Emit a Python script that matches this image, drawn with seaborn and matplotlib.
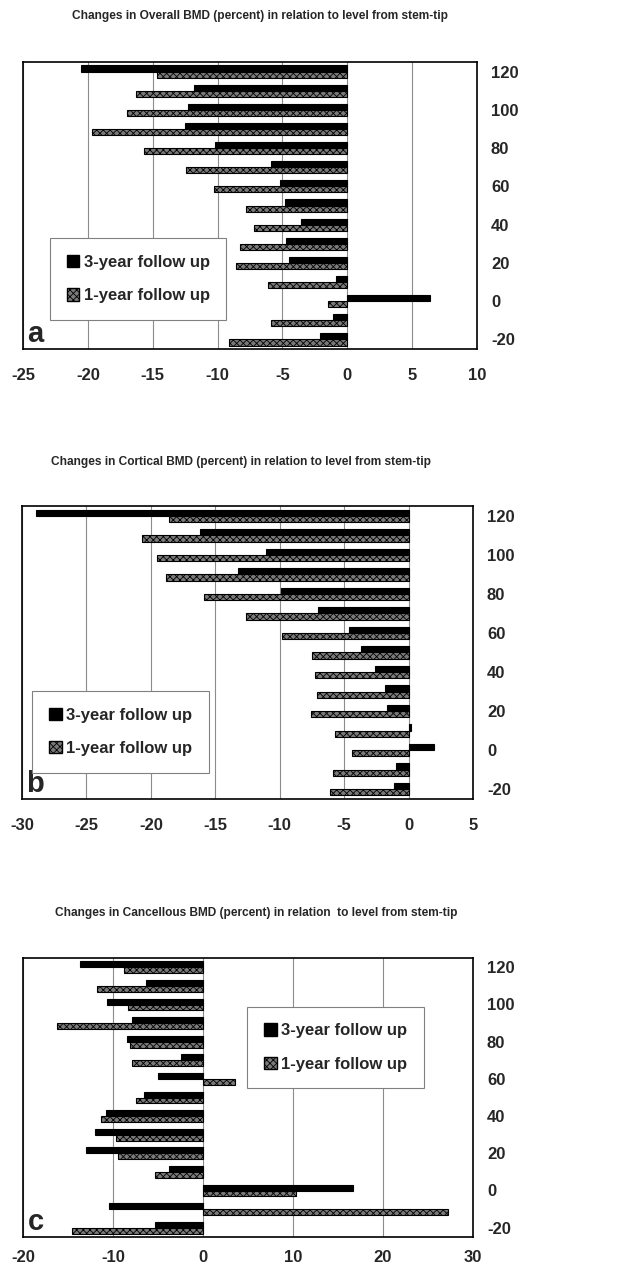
import seaborn as sns
import matplotlib.pyplot as plt
import pandas as pd
from matplotlib.patches import Patch

# -----------------------------
# Data
# -----------------------------
levels = [120, 110, 100, 90, 80, 70, 60, 50, 40, 30, 20, 10, 0, -10, -20]

overall_3yr = [-20.5, -11.8, -12.3, -12.5, -10.2, -5.9, -5.2, -4.8, -3.6, -4.7, -4.5, -0.9, 6.4, -1.1, -2.1]
overall_1yr = [-14.7, -16.3, -17.0, -19.7, -15.7, -12.4, -10.3, -7.8, -7.2, -8.3, -8.6, -6.1, -1.5, -5.9, -9.1]

cortical_3yr = [-28.9, -16.2, -11.1, -13.2, -9.9, -7.0, -4.6, -3.7, -2.6, -1.8, -1.7, 0.2, 2.0, -1.0, -1.1]
cortical_1yr = [-18.6, -20.7, -19.5, -18.8, -15.9, -12.6, -9.8, -7.5, -7.3, -7.1, -7.6, -5.7, -4.4, -5.9, -6.1]

cancel_3yr = [-13.7, -6.3, -10.7, -7.9, -8.4, -2.4, -5.0, -6.6, -10.8, -12.0, -13.0, -3.8, 16.7, -10.4, -5.3]
cancel_1yr = [-8.8, -11.8, -8.3, -16.2, -8.1, -7.9, 3.5, -7.4, -11.3, -9.7, -9.5, -5.3, 10.3, 27.2, -14.6]

series_names = ["3-year follow up", "1-year follow up"]
tick_levels = [120, 100, 80, 60, 40, 20, 0, -20]

titles = [
    "Changes in Overall BMD (percent) in relation to level from stem-tip",
    "Changes in Cortical BMD (percent) in relation to level from stem-tip",
    "Changes in Cancellous BMD (percent) in relation  to level from stem-tip",
]
letters = ["a", "b", "c"]
xlims = [(-25, 10), (-30, 5), (-20, 30)]
xsteps = [5, 5, 10]


def long_form(v3, v1):
    return pd.DataFrame({
        "level": [str(l) for l in levels] * 2,
        "change": v3 + v1,
        "series": [series_names[0]] * len(levels) + [series_names[1]] * len(levels),
    })


frames = [long_form(overall_3yr, overall_1yr),
          long_form(cortical_3yr, cortical_1yr),
          long_form(cancel_3yr, cancel_1yr)]

# -----------------------------
# Styling
# -----------------------------
sns.set_style("white")
plt.rcParams["font.family"] = ["Liberation Sans", "DejaVu Sans"]
plt.rcParams["axes.unicode_minus"] = False
plt.rcParams["hatch.linewidth"] = 0.6

W, H = 621, 1267
fig = plt.figure(figsize=(W / 100, H / 100), dpi=100)

HATCH_FACE = "#7a7a7a"

# axes boxes in pixels: (left, top, right, bottom)
boxes = [(23, 62, 477, 349), (22, 506, 473, 799), (23, 958, 473, 1237)]
title_pos = [(260, 16), (241, 462), (256, 913)]
legend_boxes = [(0.064, 0.111, 0.38, 0.265), (0.031, 0.072, 0.375, 0.314), (0.52, 0.552, 0.349, 0.254)]
xpads = [11, 11, 6]

for i in range(3):
    l, t, r, b = boxes[i]
    ax = fig.add_axes([l / W, 1 - b / H, (r - l) / W, (b - t) / H])
    sns.barplot(
        data=frames[i], x="change", y="level", hue="series",
        order=[str(v) for v in levels], hue_order=series_names,
        orient="h", width=0.64, palette=["black", HATCH_FACE],
        edgecolor="black", linewidth=0.8, saturation=1, legend=False, ax=ax,
    )
    for p in ax.containers[1]:
        p.set_hatch("xxxxx")
        p.set_edgecolor("black")

    ax.set_xlim(*xlims[i])
    lo, hi = xlims[i]
    ax.set_xticks(list(range(lo, hi + 1, xsteps[i])))
    ax.set_ylim(len(levels) - 0.5, -0.5)
    ax.set_yticks([levels.index(v) for v in tick_levels])
    ax.set_yticklabels([str(v) for v in tick_levels])
    ax.yaxis.tick_right()
    ax.set_xlabel("")
    ax.set_ylabel("")
    ax.tick_params(axis="x", labelsize=12, pad=xpads[i], length=3, direction="out")
    ax.tick_params(axis="y", labelsize=12, pad=10, length=0)
    for lab in ax.get_xticklabels() + ax.get_yticklabels():
        lab.set_fontweight("bold")
    ax.grid(axis="x", color="#8c8c8c", linewidth=0.8)
    ax.set_axisbelow(True)
    for s in ax.spines.values():
        s.set_color("black")
        s.set_linewidth(1.2)

    ax.text(0.01, 0.005, letters[i], transform=ax.transAxes, fontsize=21,
            fontweight="bold", ha="left", va="bottom")

    handles = [Patch(facecolor="black", edgecolor="black", label=series_names[0]),
               Patch(facecolor=HATCH_FACE, edgecolor="black", hatch="xxxxx", label=series_names[1])]
    leg = ax.legend(handles=handles, loc="center", bbox_to_anchor=legend_boxes[i],
                    prop={"size": 12, "weight": "bold"}, frameon=True, fancybox=False,
                    framealpha=1, edgecolor="#808080", handlelength=0.75, handleheight=0.75,
                    handletextpad=0.25, labelspacing=1.1, borderpad=1.0, borderaxespad=0)
    leg.get_frame().set_linewidth(0.8)

    tx, ty = title_pos[i]
    fig.text(tx / W, 1 - ty / H, titles[i], ha="center", va="center",
             fontsize=8.6, fontweight="bold")

fig.savefig("out.png", dpi=100)
plt.close(fig)
